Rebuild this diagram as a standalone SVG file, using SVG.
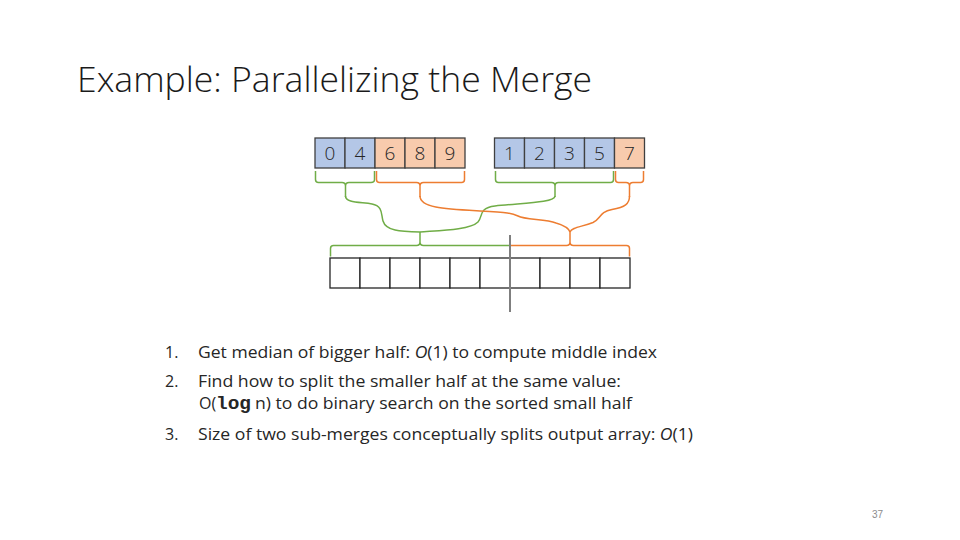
<svg xmlns="http://www.w3.org/2000/svg" width="960" height="540" viewBox="0 0 960 540">
<style>
.cb{fill:#B4C7E7;stroke:#404040;stroke-width:1.3}
.co{fill:#F8CBAD;stroke:#404040;stroke-width:1.3}
.cw{fill:#FFFFFF;stroke:#262626;stroke-width:1.3}
.d{font-family:"Open Sans","Liberation Sans",sans-serif;font-weight:300;font-size:19px;fill:#262626;text-anchor:middle}
.g{fill:none;stroke:#70AD47;stroke-width:1.5}
.o{fill:none;stroke:#ED7D31;stroke-width:1.5}
.t{font-family:"Open Sans","Liberation Sans",sans-serif;font-size:16px;fill:#262626}
.m{font-family:"Liberation Mono",monospace;font-weight:bold;font-size:18px;fill:#262626}
</style>
<rect width="960" height="540" fill="#FFFFFF"/>
<text x="77" y="92" font-family="'Open Sans','Liberation Sans',sans-serif" font-weight="300" font-size="34" fill="#1a1a1a" textLength="515" lengthAdjust="spacingAndGlyphs">Example: Parallelizing the Merge</text>

<g id="array-left">
<rect class="cb" x="315" y="138" width="30" height="30"/>
<rect class="cb" x="345" y="138" width="30" height="30"/>
<rect class="co" x="375" y="138" width="30" height="30"/>
<rect class="co" x="405" y="138" width="30" height="30"/>
<rect class="co" x="435" y="138" width="30" height="30"/>
<text class="d" x="330" y="160">0</text>
<text class="d" x="360" y="160">4</text>
<text class="d" x="390" y="160">6</text>
<text class="d" x="420" y="160">8</text>
<text class="d" x="450" y="160">9</text>
</g>
<g id="array-right">
<rect class="cb" x="494.5" y="138" width="30" height="30"/>
<rect class="cb" x="524.5" y="138" width="30" height="30"/>
<rect class="cb" x="554.5" y="138" width="30" height="30"/>
<rect class="cb" x="584.5" y="138" width="30" height="30"/>
<rect class="co" x="614.5" y="138" width="30" height="30"/>
<text class="d" x="509.5" y="160">1</text>
<text class="d" x="539.5" y="160">2</text>
<text class="d" x="569.5" y="160">3</text>
<text class="d" x="599.5" y="160">5</text>
<text class="d" x="629.5" y="160">7</text>
</g>
<g id="array-output">
<rect class="cw" x="330" y="258" width="30" height="30"/>
<rect class="cw" x="360" y="258" width="30" height="30"/>
<rect class="cw" x="390" y="258" width="30" height="30"/>
<rect class="cw" x="420" y="258" width="30" height="30"/>
<rect class="cw" x="450" y="258" width="30" height="30"/>
<rect class="cw" x="480" y="258" width="30" height="30"/>
<rect class="cw" x="510" y="258" width="30" height="30"/>
<rect class="cw" x="540" y="258" width="30" height="30"/>
<rect class="cw" x="570" y="258" width="30" height="30"/>
<rect class="cw" x="600" y="258" width="30" height="30"/>
</g>

<g id="connectors">
<path class="g" d="M315.5,171 V179.5 Q315.5,182.5 318.5,182.5 H342 Q345.5,182.5 345.5,186 V197 M345.5,186 Q345.5,182.5 349,182.5 H371 Q374.5,182.5 374.5,179.5 V171"/>
<path class="o" d="M376.5,171 V179.5 Q376.5,182.5 379.5,182.5 H416.5 Q420,182.5 420,186 V197 M420,186 Q420,182.5 423.5,182.5 H461.5 Q464.5,182.5 464.5,179.5 V171"/>
<path class="g" d="M495.5,171 V179.5 Q495.5,182.5 498.5,182.5 H551.5 Q555,182.5 555,186 V197 M555,186 Q555,182.5 558.5,182.5 H610.5 Q613.5,182.5 613.5,179.5 V171"/>
<path class="o" d="M615.5,171 V179.5 Q615.5,182.5 618.5,182.5 H626 Q629.5,182.5 629.5,186 V197 M629.5,186 Q629.5,182.5 633,182.5 H640.5 Q643.5,182.5 643.5,179.5 V171"/>
<path class="g" d="M345.5,196 C345.5,203 360,202 372,204 C383,206 381,214 383,221 C386,231 400,231.5 420,232"/>
<path class="g" d="M555,196 C555,203 520,203 495,206 C478,208 483,217 478,222 C470,230 440,230.5 420,232"/>
<path class="o" d="M420,196 C420,208 445,209 480,211 C508,212.5 512,213 518,216 C525,220 545,219 556,223 C566,226 569,229 570,232"/>
<path class="o" d="M629.5,196 C629.5,204 625,207 612,209.5 C599,212 601,219 593,222.5 C582,227 572,227 570,232"/>
<path class="g" d="M330.5,256.5 V248.5 Q330.5,245.5 333.5,245.5 H416.5 Q420,245.5 420,242 V232 M420,242 Q420,245.5 423.5,245.5 H510"/>
<path class="o" d="M510,245.5 H566.5 Q570,245.5 570,242 V232 M570,242 Q570,245.5 573.5,245.5 H626.5 Q629.5,245.5 629.5,248.5 V256.5"/>
<line x1="510" y1="235" x2="510" y2="312" stroke="#7F7F7F" stroke-width="2"/>
</g>

<g id="list">
<text class="t" x="165" y="358">1.</text>
<text class="t" x="198" y="358" textLength="459" lengthAdjust="spacingAndGlyphs">Get median of bigger half: <tspan font-style="italic">O</tspan>(1) to compute middle index</text>
<text class="t" x="165" y="387">2.</text>
<text class="t" x="198" y="387" textLength="423" lengthAdjust="spacingAndGlyphs">Find how to split the smaller half at the same value:</text>
<text class="t" x="199" y="409">O(</text>
<text class="m" x="216" y="409" textLength="35" lengthAdjust="spacingAndGlyphs">log</text>
<text class="t" x="255" y="409" textLength="377" lengthAdjust="spacingAndGlyphs">n) to do binary search on the sorted small half</text>
<text class="t" x="165" y="440">3.</text>
<text class="t" x="198" y="440" textLength="495" lengthAdjust="spacingAndGlyphs">Size of two sub-merges conceptually splits output array: <tspan font-style="italic">O</tspan>(1)</text>
</g>
<text x="872" y="518" font-family="'Liberation Sans',sans-serif" font-size="10" fill="#8C8C8C">37</text>
</svg>
